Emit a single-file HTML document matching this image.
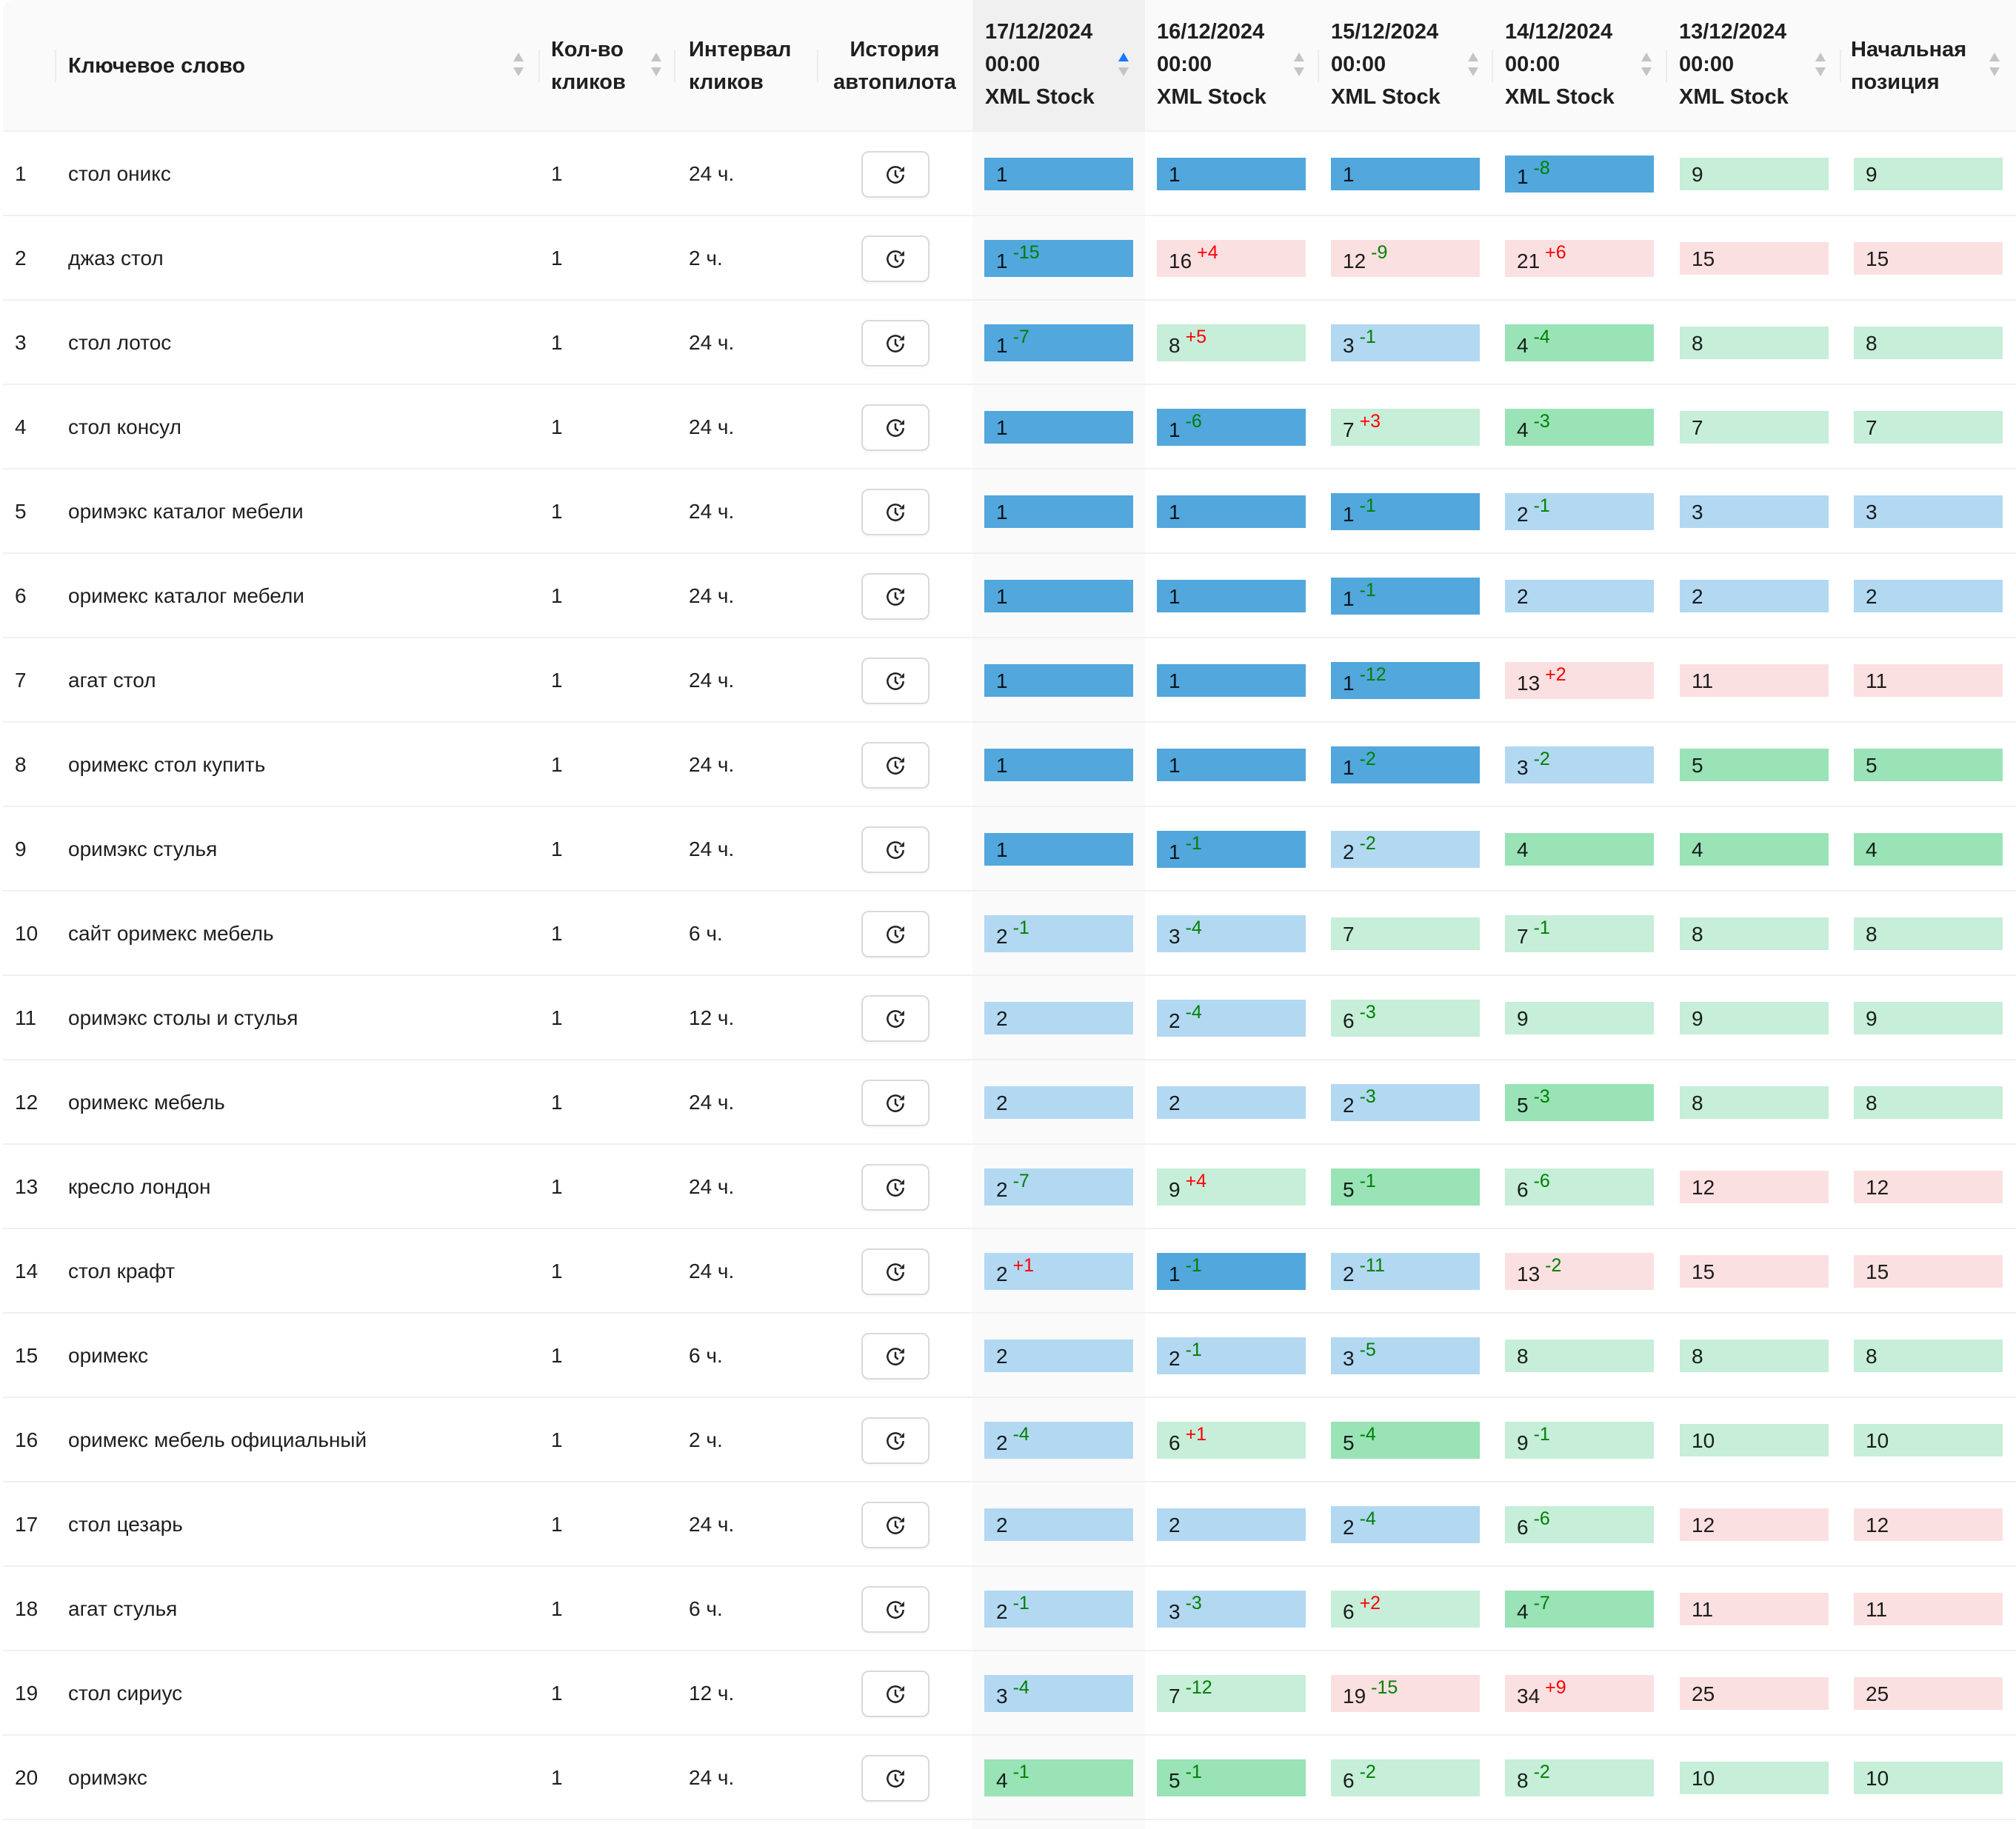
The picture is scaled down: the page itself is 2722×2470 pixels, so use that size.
<!DOCTYPE html>
<html><head><meta charset="utf-8"><style>
*{margin:0;padding:0;box-sizing:border-box}
body{width:2722px;height:2470px;background:#fff;position:relative;overflow:hidden;font-family:"Liberation Sans","DejaVu Sans",sans-serif;color:rgba(0,0,0,0.88)}
.hd{position:absolute;left:4px;top:0;width:2718px;height:178px;background:#fafafa;border-bottom:2px solid #f0f0f0;border-top-left-radius:14px}
.sortcol{position:absolute;left:1313px;top:0;width:233px;height:178px;background:#f0f0f0}
.sortbody{position:absolute;left:1313px;top:178px;width:233px;height:2292px;background:#fafafa}
.ht{position:absolute;font-size:29px;font-weight:bold;line-height:44px;color:rgba(0,0,0,0.88)}
.sep{position:absolute;top:67px;width:2px;height:44px;background:#ececec}
.so{position:absolute;width:14px;height:36px;top:71px}
.so:before{content:"";position:absolute;left:0;top:0;border-left:7px solid transparent;border-right:7px solid transparent;border-bottom:12px solid #c4c4c4}
.so:after{content:"";position:absolute;left:0;top:20px;border-left:7px solid transparent;border-right:7px solid transparent;border-top:12px solid #c4c4c4}
.so.act:before{border-bottom-color:#1677ff}
.r{position:absolute;left:4px;width:2718px;height:114px;border-bottom:2px solid #f0f0f0}
.r span.t{position:absolute;top:0;line-height:114px;font-size:28px}
.n{left:16px}.k{left:88px}.q{left:740px}.iv{left:926px}
.btn{position:absolute;left:1159px;top:26px;width:92px;height:63px;border:2px solid #d9d9d9;border-radius:10px;background:#fff;box-shadow:0 3px 0 rgba(0,0,0,0.02)}
.btn svg{position:absolute;left:29px;top:15px}
.c{position:absolute;height:44px;top:35px;width:201px;font-size:28px;line-height:46px;padding-left:16px;color:rgba(0,0,0,0.88)}
.c.h{height:50px;top:32px;line-height:58px}
.c sup{font-size:25px;position:relative;top:2px;vertical-align:top;line-height:30px;margin-left:7px}
.m{color:#008000}.pl{color:#ff0000}
.c0{left:1325px}.c1{left:1558px}.c2{left:1793px}.c3{left:2028px}.c4{left:2264px}.c5{left:2499px}
.B{background:#52a7dd}.LB{background:#b3d8f2}.G{background:#99e3b7}.LG{background:#c6eed9}.P{background:#fbe0e1}
</style></head><body>
<div class="hd"></div>
<div class="sortcol"></div>
<div class="sortbody"></div>
<div class="sep" style="left:74px"></div>
<div class="sep" style="left:727px"></div>
<div class="sep" style="left:910px"></div>
<div class="sep" style="left:1103px"></div>
<div class="sep" style="left:1779px"></div>
<div class="sep" style="left:2014px"></div>
<div class="sep" style="left:2249px"></div>
<div class="sep" style="left:2484px"></div>
<div class="ht" style="left:92px;top:67px">Ключевое слово</div>
<div class="so" style="left:693px"></div>
<div class="ht" style="left:744px;top:45px">Кол-во<br>кликов</div>
<div class="so" style="left:879px"></div>
<div class="ht" style="left:930px;top:45px">Интервал<br>кликов</div>
<div class="ht" style="left:1108px;top:45px;width:200px;text-align:center">История<br>автопилота</div>
<div class="ht" style="left:1330px;top:21px">17/12/2024<br>00:00<br>XML Stock</div>
<div class="so act" style="left:1510px"></div>
<div class="ht" style="left:1562px;top:21px">16/12/2024<br>00:00<br>XML Stock</div>
<div class="so" style="left:1747px"></div>
<div class="ht" style="left:1797px;top:21px">15/12/2024<br>00:00<br>XML Stock</div>
<div class="so" style="left:1982px"></div>
<div class="ht" style="left:2032px;top:21px">14/12/2024<br>00:00<br>XML Stock</div>
<div class="so" style="left:2216px"></div>
<div class="ht" style="left:2267px;top:21px">13/12/2024<br>00:00<br>XML Stock</div>
<div class="so" style="left:2451px"></div>
<div class="ht" style="left:2499px;top:45px">Начальная<br>позиция</div>
<div class="so" style="left:2686px"></div>

<svg width="0" height="0" style="position:absolute"><defs><symbol id="clk" viewBox="0 0 24 24"><path d="M20.5 12a8.5 8.5 0 1 1-2.6-6.1" fill="none" stroke="#222" stroke-width="2"/><path d="M21.5 3v5.5h-5.5z" fill="#222"/><path d="M12 7v5.5l3 2.5" fill="none" stroke="#222" stroke-width="2"/></symbol></defs></svg>

<div class="r" style="top:178px"><span class="t n">1</span><span class="t k">стол оникс</span><span class="t q">1</span><span class="t iv">24 ч.</span><div class="btn"><svg width="30" height="30"><use href="#clk"/></svg></div>
<div class="c c0 B">1</div><div class="c c1 B">1</div><div class="c c2 B">1</div><div class="c h c3 B">1<sup class="m">-8</sup></div><div class="c c4 LG">9</div><div class="c c5 LG">9</div></div>

<div class="r" style="top:292px"><span class="t n">2</span><span class="t k">джаз стол</span><span class="t q">1</span><span class="t iv">2 ч.</span><div class="btn"><svg width="30" height="30"><use href="#clk"/></svg></div>
<div class="c h c0 B">1<sup class="m">-15</sup></div><div class="c h c1 P">16<sup class="pl">+4</sup></div><div class="c h c2 P">12<sup class="m">-9</sup></div><div class="c h c3 P">21<sup class="pl">+6</sup></div><div class="c c4 P">15</div><div class="c c5 P">15</div></div>

<div class="r" style="top:406px"><span class="t n">3</span><span class="t k">стол лотос</span><span class="t q">1</span><span class="t iv">24 ч.</span><div class="btn"><svg width="30" height="30"><use href="#clk"/></svg></div>
<div class="c h c0 B">1<sup class="m">-7</sup></div><div class="c h c1 LG">8<sup class="pl">+5</sup></div><div class="c h c2 LB">3<sup class="m">-1</sup></div><div class="c h c3 G">4<sup class="m">-4</sup></div><div class="c c4 LG">8</div><div class="c c5 LG">8</div></div>

<div class="r" style="top:520px"><span class="t n">4</span><span class="t k">стол консул</span><span class="t q">1</span><span class="t iv">24 ч.</span><div class="btn"><svg width="30" height="30"><use href="#clk"/></svg></div>
<div class="c c0 B">1</div><div class="c h c1 B">1<sup class="m">-6</sup></div><div class="c h c2 LG">7<sup class="pl">+3</sup></div><div class="c h c3 G">4<sup class="m">-3</sup></div><div class="c c4 LG">7</div><div class="c c5 LG">7</div></div>

<div class="r" style="top:634px"><span class="t n">5</span><span class="t k">оримэкс каталог мебели</span><span class="t q">1</span><span class="t iv">24 ч.</span><div class="btn"><svg width="30" height="30"><use href="#clk"/></svg></div>
<div class="c c0 B">1</div><div class="c c1 B">1</div><div class="c h c2 B">1<sup class="m">-1</sup></div><div class="c h c3 LB">2<sup class="m">-1</sup></div><div class="c c4 LB">3</div><div class="c c5 LB">3</div></div>

<div class="r" style="top:748px"><span class="t n">6</span><span class="t k">оримекс каталог мебели</span><span class="t q">1</span><span class="t iv">24 ч.</span><div class="btn"><svg width="30" height="30"><use href="#clk"/></svg></div>
<div class="c c0 B">1</div><div class="c c1 B">1</div><div class="c h c2 B">1<sup class="m">-1</sup></div><div class="c c3 LB">2</div><div class="c c4 LB">2</div><div class="c c5 LB">2</div></div>

<div class="r" style="top:862px"><span class="t n">7</span><span class="t k">агат стол</span><span class="t q">1</span><span class="t iv">24 ч.</span><div class="btn"><svg width="30" height="30"><use href="#clk"/></svg></div>
<div class="c c0 B">1</div><div class="c c1 B">1</div><div class="c h c2 B">1<sup class="m">-12</sup></div><div class="c h c3 P">13<sup class="pl">+2</sup></div><div class="c c4 P">11</div><div class="c c5 P">11</div></div>

<div class="r" style="top:976px"><span class="t n">8</span><span class="t k">оримекс стол купить</span><span class="t q">1</span><span class="t iv">24 ч.</span><div class="btn"><svg width="30" height="30"><use href="#clk"/></svg></div>
<div class="c c0 B">1</div><div class="c c1 B">1</div><div class="c h c2 B">1<sup class="m">-2</sup></div><div class="c h c3 LB">3<sup class="m">-2</sup></div><div class="c c4 G">5</div><div class="c c5 G">5</div></div>

<div class="r" style="top:1090px"><span class="t n">9</span><span class="t k">оримэкс стулья</span><span class="t q">1</span><span class="t iv">24 ч.</span><div class="btn"><svg width="30" height="30"><use href="#clk"/></svg></div>
<div class="c c0 B">1</div><div class="c h c1 B">1<sup class="m">-1</sup></div><div class="c h c2 LB">2<sup class="m">-2</sup></div><div class="c c3 G">4</div><div class="c c4 G">4</div><div class="c c5 G">4</div></div>

<div class="r" style="top:1204px"><span class="t n">10</span><span class="t k">сайт оримекс мебель</span><span class="t q">1</span><span class="t iv">6 ч.</span><div class="btn"><svg width="30" height="30"><use href="#clk"/></svg></div>
<div class="c h c0 LB">2<sup class="m">-1</sup></div><div class="c h c1 LB">3<sup class="m">-4</sup></div><div class="c c2 LG">7</div><div class="c h c3 LG">7<sup class="m">-1</sup></div><div class="c c4 LG">8</div><div class="c c5 LG">8</div></div>

<div class="r" style="top:1318px"><span class="t n">11</span><span class="t k">оримэкс столы и стулья</span><span class="t q">1</span><span class="t iv">12 ч.</span><div class="btn"><svg width="30" height="30"><use href="#clk"/></svg></div>
<div class="c c0 LB">2</div><div class="c h c1 LB">2<sup class="m">-4</sup></div><div class="c h c2 LG">6<sup class="m">-3</sup></div><div class="c c3 LG">9</div><div class="c c4 LG">9</div><div class="c c5 LG">9</div></div>

<div class="r" style="top:1432px"><span class="t n">12</span><span class="t k">оримекс мебель</span><span class="t q">1</span><span class="t iv">24 ч.</span><div class="btn"><svg width="30" height="30"><use href="#clk"/></svg></div>
<div class="c c0 LB">2</div><div class="c c1 LB">2</div><div class="c h c2 LB">2<sup class="m">-3</sup></div><div class="c h c3 G">5<sup class="m">-3</sup></div><div class="c c4 LG">8</div><div class="c c5 LG">8</div></div>

<div class="r" style="top:1546px"><span class="t n">13</span><span class="t k">кресло лондон</span><span class="t q">1</span><span class="t iv">24 ч.</span><div class="btn"><svg width="30" height="30"><use href="#clk"/></svg></div>
<div class="c h c0 LB">2<sup class="m">-7</sup></div><div class="c h c1 LG">9<sup class="pl">+4</sup></div><div class="c h c2 G">5<sup class="m">-1</sup></div><div class="c h c3 LG">6<sup class="m">-6</sup></div><div class="c c4 P">12</div><div class="c c5 P">12</div></div>

<div class="r" style="top:1660px"><span class="t n">14</span><span class="t k">стол крафт</span><span class="t q">1</span><span class="t iv">24 ч.</span><div class="btn"><svg width="30" height="30"><use href="#clk"/></svg></div>
<div class="c h c0 LB">2<sup class="pl">+1</sup></div><div class="c h c1 B">1<sup class="m">-1</sup></div><div class="c h c2 LB">2<sup class="m">-11</sup></div><div class="c h c3 P">13<sup class="m">-2</sup></div><div class="c c4 P">15</div><div class="c c5 P">15</div></div>

<div class="r" style="top:1774px"><span class="t n">15</span><span class="t k">оримекс</span><span class="t q">1</span><span class="t iv">6 ч.</span><div class="btn"><svg width="30" height="30"><use href="#clk"/></svg></div>
<div class="c c0 LB">2</div><div class="c h c1 LB">2<sup class="m">-1</sup></div><div class="c h c2 LB">3<sup class="m">-5</sup></div><div class="c c3 LG">8</div><div class="c c4 LG">8</div><div class="c c5 LG">8</div></div>

<div class="r" style="top:1888px"><span class="t n">16</span><span class="t k">оримекс мебель официальный</span><span class="t q">1</span><span class="t iv">2 ч.</span><div class="btn"><svg width="30" height="30"><use href="#clk"/></svg></div>
<div class="c h c0 LB">2<sup class="m">-4</sup></div><div class="c h c1 LG">6<sup class="pl">+1</sup></div><div class="c h c2 G">5<sup class="m">-4</sup></div><div class="c h c3 LG">9<sup class="m">-1</sup></div><div class="c c4 LG">10</div><div class="c c5 LG">10</div></div>

<div class="r" style="top:2002px"><span class="t n">17</span><span class="t k">стол цезарь</span><span class="t q">1</span><span class="t iv">24 ч.</span><div class="btn"><svg width="30" height="30"><use href="#clk"/></svg></div>
<div class="c c0 LB">2</div><div class="c c1 LB">2</div><div class="c h c2 LB">2<sup class="m">-4</sup></div><div class="c h c3 LG">6<sup class="m">-6</sup></div><div class="c c4 P">12</div><div class="c c5 P">12</div></div>

<div class="r" style="top:2116px"><span class="t n">18</span><span class="t k">агат стулья</span><span class="t q">1</span><span class="t iv">6 ч.</span><div class="btn"><svg width="30" height="30"><use href="#clk"/></svg></div>
<div class="c h c0 LB">2<sup class="m">-1</sup></div><div class="c h c1 LB">3<sup class="m">-3</sup></div><div class="c h c2 LG">6<sup class="pl">+2</sup></div><div class="c h c3 G">4<sup class="m">-7</sup></div><div class="c c4 P">11</div><div class="c c5 P">11</div></div>

<div class="r" style="top:2230px"><span class="t n">19</span><span class="t k">стол сириус</span><span class="t q">1</span><span class="t iv">12 ч.</span><div class="btn"><svg width="30" height="30"><use href="#clk"/></svg></div>
<div class="c h c0 LB">3<sup class="m">-4</sup></div><div class="c h c1 LG">7<sup class="m">-12</sup></div><div class="c h c2 P">19<sup class="m">-15</sup></div><div class="c h c3 P">34<sup class="pl">+9</sup></div><div class="c c4 P">25</div><div class="c c5 P">25</div></div>

<div class="r" style="top:2344px"><span class="t n">20</span><span class="t k">оримэкс</span><span class="t q">1</span><span class="t iv">24 ч.</span><div class="btn"><svg width="30" height="30"><use href="#clk"/></svg></div>
<div class="c h c0 G">4<sup class="m">-1</sup></div><div class="c h c1 G">5<sup class="m">-1</sup></div><div class="c h c2 LG">6<sup class="m">-2</sup></div><div class="c h c3 LG">8<sup class="m">-2</sup></div><div class="c c4 LG">10</div><div class="c c5 LG">10</div></div>
</body></html>
